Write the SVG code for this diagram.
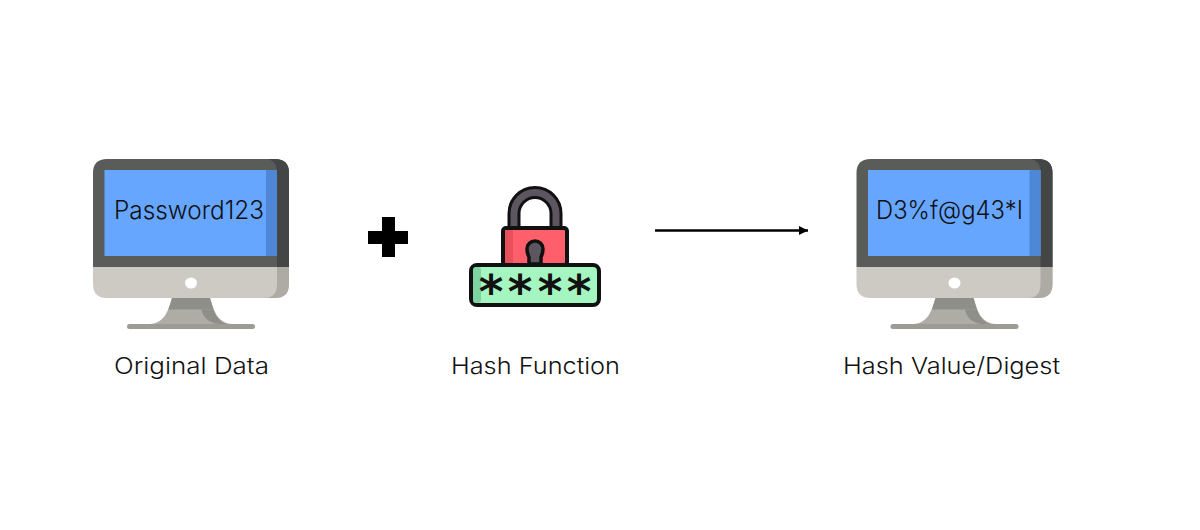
<svg xmlns="http://www.w3.org/2000/svg" width="1200" height="530" viewBox="0 0 1200 530">
<style>
.t{font-family:"Inter","Liberation Sans",sans-serif;font-size:23px;font-weight:300;fill:#111}
.s{font-size:25px}
.k{fill:none;stroke-width:13}
</style>
<defs>
<marker id="ah" markerUnits="userSpaceOnUse" markerWidth="10" markerHeight="10" refX="9" refY="4.5" orient="auto"><path d="M0,0 L9,4.5 L0,9Z" fill="#000"/></marker>
<g id="monitor">
<path d="M172,298 H210 C214,312 218,323 232,324 H150 C164,323 168,312 172,298Z" fill="#adaca5"/>
<path d="M172,298 H210 L213.500,309.500 H168.500Z" fill="#8e8f88"/>
<path d="M201.500,309.500 H213.500 C216,317 220,322 227,324 H219 C208,323 203,317 201.500,309.500Z" fill="#8e8f88"/>
<rect x="127" y="324" width="128" height="5" rx="2.500" fill="#9c9b94"/>
<path d="M93,267 H289 V284 Q289,298 275,298 H107 Q93,298 93,284Z" fill="#cdcac3"/>
<path d="M277,267 H289 V284 Q289,298 275,298 H264 Q277,298 277,284Z" fill="#adaba4"/>
<path d="M107,159 H275 Q289,159 289,173 V267 H93 V173 Q93,159 107,159Z" fill="#5a5c5a"/>
<path d="M268,159 H275 Q289,159 289,173 V267 H277 V173 Q277,161 268,159Z" fill="#444645"/>
<rect x="104.500" y="170" width="172.500" height="86" fill="#66a6ff"/>
<rect x="266" y="170" width="11" height="86" fill="#4d87d6"/>
<ellipse cx="191" cy="283" rx="6" ry="5.500" fill="#fff"/>
</g>
</defs>
<rect width="1200" height="530" fill="#fff"/>
<g id="connectors">
<line x1="655" y1="230.500" x2="808" y2="230.500" stroke="#000" stroke-width="2.500" marker-end="url(#ah)"/>
</g>
<g id="original-data">
<use href="#monitor"/>
<text class="t s" x="114" y="219" textLength="150" lengthAdjust="spacingAndGlyphs">Password123</text>
<text class="t" x="114" y="374" textLength="155" lengthAdjust="spacingAndGlyphs">Original Data</text>
</g>
<g id="plus">
<path d="M382,217 H395 V231 H408 V244 H395 V257 H382 V244 H368 V231 H382Z" fill="#000"/>
</g>
<g id="hash-function">
<path class="k" d="M514,228 V213.500 A21,21 0 0 1 556,213.500 V228" stroke="#111"/>
<path d="M514,228 V213.500 A21,21 0 0 1 556,213.500 V228" fill="none" stroke="#5d5660" stroke-width="7"/>
<rect x="503" y="228" width="64" height="37" rx="3" fill="#ff5f6b" stroke="#111" stroke-width="4"/>
<rect x="505" y="230" width="8" height="33" fill="#e8505c"/>
<path d="M529,264 V257 Q527,253 527,249 A8,8 0 0 1 543,249 Q543,253 541,257 V264Z" fill="#5d5660" stroke="#111" stroke-width="3.500"/>
<rect x="471" y="265" width="128" height="40" rx="6" fill="#a4f5c0" stroke="#111" stroke-width="4"/>
<rect x="473" y="267" width="8" height="36" rx="3" fill="#7fd3a3"/>
<text x="491 520 550 579" y="308" text-anchor="middle" style="font-family:'DejaVu Sans',sans-serif;font-weight:700;font-size:47px;fill:#111">****</text>
<text class="t" x="451" y="374" textLength="169" lengthAdjust="spacingAndGlyphs">Hash Function</text>
</g>
<g id="hash-value">
<use href="#monitor" x="763.500"/>
<text class="t s" x="876" y="219" textLength="147" lengthAdjust="spacingAndGlyphs">D3%f@g43*I</text>
<text class="t" x="843" y="374" textLength="217" lengthAdjust="spacingAndGlyphs">Hash Value/Digest</text>
</g>
</svg>
